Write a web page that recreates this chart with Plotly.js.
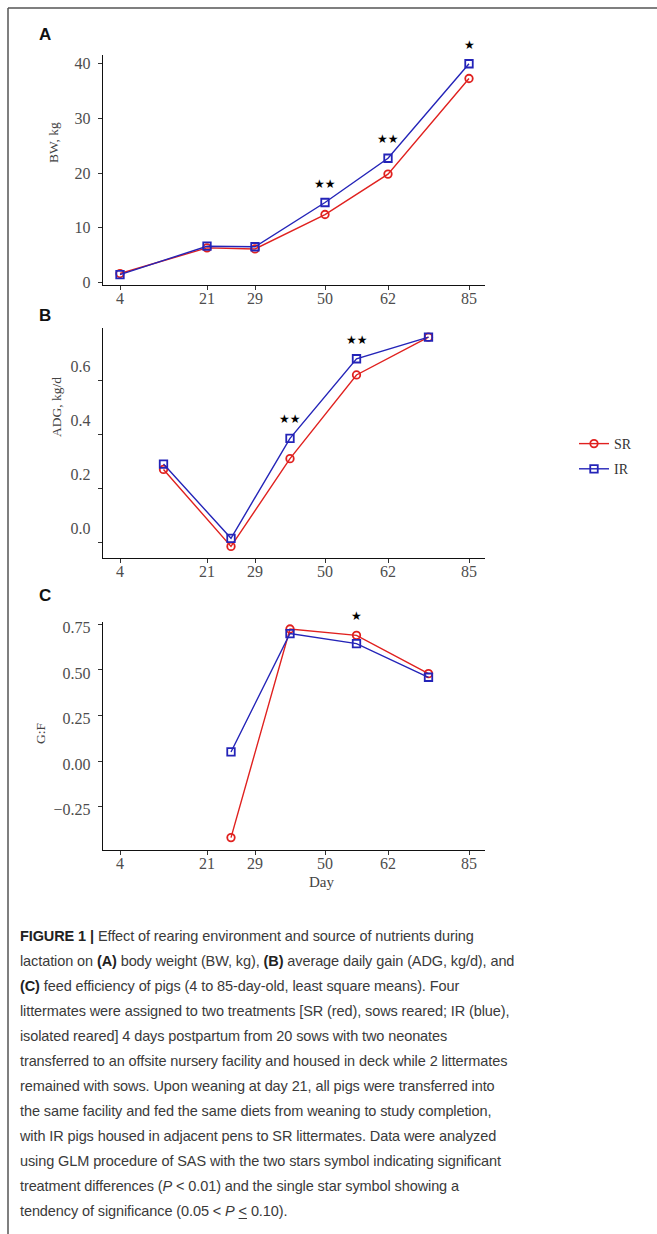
<!DOCTYPE html>
<html>
<head>
<meta charset="utf-8">
<script src="https://cdn.plot.ly/plotly-3.0.1.min.js"></script>
<style>
  html, body { margin: 0; padding: 0; background: #fff; }
  #wrap { position: relative; width: 657px; height: 1234px; }
  #chart { position: absolute; left: 0; top: 0; width: 657px; height: 1234px; }
  #caption { position: absolute; left: 20px; top: 924px; width: 630px;
    font-family: "Liberation Sans", Arial, sans-serif; font-size: 14.5px; line-height: 25px;
    color: #3a3a3a; white-space: nowrap; letter-spacing: -0.1px; }
  #caption b { color: #222; }
</style>
</head>
<body>
<div id="wrap">
  <div id="chart"></div>
  <div id="caption">
    <b>FIGURE 1 |</b> Effect of rearing environment and source of nutrients during<br>
    lactation on <b>(A)</b> body weight (BW, kg), <b>(B)</b> average daily gain (ADG, kg/d), and<br>
    <b>(C)</b> feed efficiency of pigs (4 to 85-day-old, least square means). Four<br>
    littermates were assigned to two treatments [SR (red), sows reared; IR (blue),<br>
    isolated reared] 4 days postpartum from 20 sows with two neonates<br>
    transferred to an offsite nursery facility and housed in deck while 2 littermates<br>
    remained with sows. Upon weaning at day 21, all pigs were transferred into<br>
    the same facility and fed the same diets from weaning to study completion,<br>
    with IR pigs housed in adjacent pens to SR littermates. Data were analyzed<br>
    using GLM procedure of SAS with the two stars symbol indicating significant<br>
    treatment differences (<i>P</i> &lt; 0.01) and the single star symbol showing a<br>
    tendency of significance (0.05 &lt; <i>P</i> <u style="text-decoration-thickness:1px;text-underline-offset:2px">&lt;</u> 0.10).
  </div>
</div>
<script>
// ---- data ----
const dayLabels = ['4', '21', '29', '50', '62', '85'];
// axis coordinate of each day tick (the original figure's uneven day spacing)
const dayAxisPos = [0, 87, 135, 205, 268, 349];

const treatments = ['SR', 'IR'];

// (A) body weight, kg, at each day
const bwSR = [1.6, 6.3, 6.1, 12.4, 19.8, 37.3];
const bwIR = [1.4, 6.6, 6.5, 14.6, 22.7, 40.0];
const bwSig = ['', '', '', '★★', '★★', '★'];

// (B) average daily gain, kg/d, for each period between days
const adgSR = [0.27, -0.015, 0.31, 0.62, 0.76];
const adgIR = [0.29, 0.015, 0.385, 0.68, 0.76];
const adgSig = ['', '', '★★', '★★', ''];

// (C) G:F for periods 2..5
const gfSR = [-0.42, 0.725, 0.69, 0.48];
const gfIR = [0.05, 0.70, 0.645, 0.46];
const gfSig = ['', '', '★', ''];

// ---- derived positions through the axis scale ----
const periodPos = dayAxisPos.slice(0, -1).map((v, i) => (v + dayAxisPos[i + 1]) / 2);
const gfPos = periodPos.slice(1);

const RED = '#e0211f';
const BLUE = '#2424b8';
const W = 657, H = 1234;
const px = v => v / W;
const py = v => 1 - v / H;

function pair(xs, ys1, ys2, xa, ya, legend) {
  return [
    { x: xs, y: ys1, xaxis: xa, yaxis: ya, type: 'scatter', mode: 'lines+markers', name: treatments[0],
      legendgroup: 'SR', showlegend: legend,
      line: { color: RED, width: 1.4 },
      marker: { symbol: 'circle-open', size: 7.5, color: RED, line: { width: 1.8, color: RED } } },
    { x: xs, y: ys2, xaxis: xa, yaxis: ya, type: 'scatter', mode: 'lines+markers', name: treatments[1],
      legendgroup: 'IR', showlegend: legend,
      line: { color: BLUE, width: 1.4 },
      marker: { symbol: 'square-open', size: 7.5, color: BLUE, line: { width: 1.8, color: BLUE } } }
  ];
}

const data = [
  ...pair(dayAxisPos, bwSR, bwIR, 'x', 'y', true),
  ...pair(periodPos, adgSR, adgIR, 'x2', 'y2', false),
  ...pair(gfPos, gfSR, gfIR, 'x3', 'y3', false)
];

const tickFont = { family: 'Liberation Serif, serif', size: 16, color: '#4d4d4d' };
function xAxis(anchor) {
  return {
    anchor: anchor, domain: [px(103), px(485)], range: [-17, 365],
    tickmode: 'array', tickvals: dayAxisPos, ticktext: dayLabels,
    showline: true, linecolor: '#111', linewidth: 1.2, ticks: 'outside', ticklen: 4,
    tickcolor: '#333', tickwidth: 1, showgrid: false, zeroline: false,
    tickfont: tickFont, ticklabelstandoff: -5, fixedrange: true, title: { text: '' }
  };
}
function yAxis(anchor, domainPx, range, tickvals, fmt, shift) {
  return {
    anchor: anchor, domain: [py(domainPx[1]), py(domainPx[0])], range: range,
    tickmode: 'array', tickvals: tickvals, tickformat: fmt,
    showline: true, linecolor: '#111', linewidth: 1.2, ticks: 'outside', ticklen: 4,
    tickcolor: '#333', tickwidth: 1, showgrid: false, zeroline: false,
    tickfont: tickFont, ticklabelshift: shift, ticklabelstandoff: 4, fixedrange: true,
    title: { text: '' }
  };
}

function sigAnn(xs, a, b, sig, xref, yref) {
  const out = [];
  sig.forEach((s, i) => {
    if (!s) return;
    out.push({ x: xs[i], y: Math.max(a[i], b[i]), xref: xref, yref: yref, text: s, showarrow: false,
      yshift: 19, font: { size: 12, color: '#000', family: 'DejaVu Sans' } });
  });
  return out;
}

const panelLetter = (t, x, y) => ({ x: px(x), y: py(y), xref: 'paper', yref: 'paper', text: '<b>' + t + '</b>',
  showarrow: false, xanchor: 'center', yanchor: 'middle', font: { family: 'Liberation Sans, Arial', size: 17, color: '#111' } });
const axisTitle = (t, x, y, angle, size) => ({ x: px(x), y: py(y), xref: 'paper', yref: 'paper', text: t,
  showarrow: false, xanchor: 'center', yanchor: 'middle', textangle: angle,
  font: { family: 'Liberation Serif, serif', size: size, color: '#444' } });

const layout = {
  width: W, height: H, margin: { l: 0, r: 0, t: 0, b: 0 },
  paper_bgcolor: '#fff', plot_bgcolor: '#fff',
  showlegend: true,
  legend: { x: px(574), y: py(428), xanchor: 'left', yanchor: 'top', bgcolor: 'rgba(0,0,0,0)',
    font: { family: 'Liberation Serif, serif', size: 14, color: '#333' }, tracegroupgap: 4, traceorder: 'grouped' },
  xaxis: xAxis('y'),
  yaxis: yAxis('x', [55, 285], [-0.5, 41.6], [0, 10, 20, 30, 40], 'd', 0),
  xaxis2: xAxis('y2'),
  yaxis2: yAxis('x2', [328, 558], [-0.058, 0.794], [0, 0.2, 0.4, 0.6], '.1f', -14),
  xaxis3: xAxis('y3'),
  yaxis3: yAxis('x3', [621.7, 850], [-0.488, 0.765], [-0.25, 0, 0.25, 0.5, 0.75], '.2f', 3),
  annotations: [
    ...sigAnn(dayAxisPos, bwSR, bwIR, bwSig, 'x', 'y'),
    ...sigAnn(periodPos, adgSR, adgIR, adgSig, 'x2', 'y2'),
    ...sigAnn(gfPos, gfSR, gfIR, gfSig, 'x3', 'y3'),
    panelLetter('A', 45, 35), panelLetter('B', 45, 315), panelLetter('C', 45, 596),
    axisTitle('BW, kg', 54, 143, -90, 13.5),
    axisTitle('ADG, kg/d', 56, 407, -90, 13.5),
    axisTitle('G:F', 40, 733, -90, 13.5),
    axisTitle('Day', 321, 882, 0, 15)
  ],
  shapes: [
    { type: 'line', xref: 'paper', yref: 'paper', x0: px(8), x1: 1, y0: py(8), y1: py(8), line: { color: '#555', width: 1.5 } },
    { type: 'line', xref: 'paper', yref: 'paper', x0: px(8), x1: px(8), y0: py(8), y1: 0, line: { color: '#555', width: 1.5 } }
  ]
};

Plotly.newPlot('chart', data, layout, { staticPlot: true, displayModeBar: false });
</script>
</body>
</html>
